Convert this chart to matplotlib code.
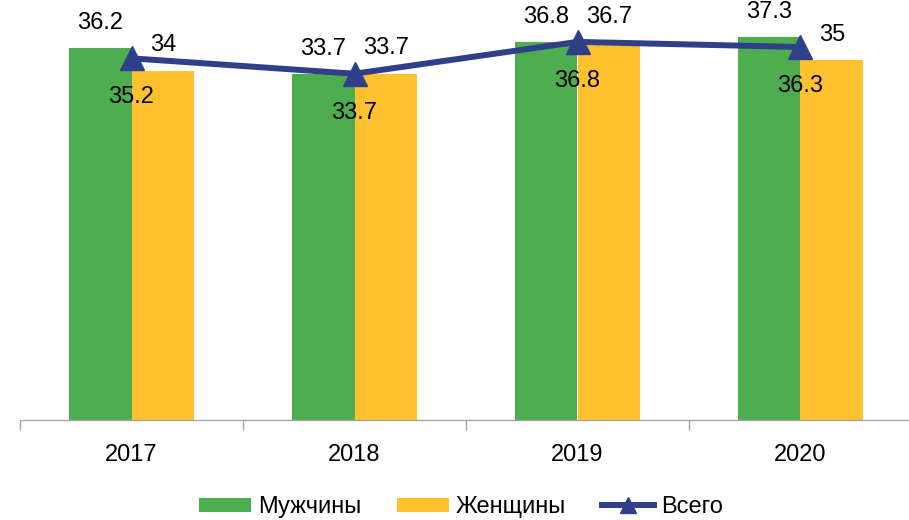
import matplotlib
matplotlib.use("Agg")
import matplotlib.pyplot as plt
import numpy as np

years = ["2017", "2018", "2019", "2020"]
men = [36.2, 33.7, 36.8, 37.3]
women = [34, 33.7, 36.7, 35]
total = [35.2, 33.7, 36.8, 36.3]

GREEN = "#4EAE4F"
YELLOW = "#FFC22E"
NAVY = "#2F3F8A"

plt.rcParams['font.family'] = ['Liberation Sans', 'DejaVu Sans']

fig = plt.figure(figsize=(9.09, 5.2), dpi=100)
ax = fig.add_axes([20/909, 100/520, 892/909, 411/520])

x = np.arange(len(years))
bw = 0.2825
b1 = ax.bar(x - bw, men, width=bw, align='edge', color=GREEN, label='Мужчины', zorder=2)
b2 = ax.bar(x, women, width=bw, align='edge', color=YELLOW, label='Женщины', zorder=2)
l1, = ax.plot(x, total, color=NAVY, lw=4.3, marker='^', ms=17, label='Всего', zorder=3)

fs = 17
for i in range(len(years)):
    ax.annotate(f"{men[i]:g}", (x[i] - bw/2, men[i]), xytext=(0, 18), textcoords='offset points',
                ha='center', va='center', fontsize=fs)
    ax.annotate(f"{women[i]:g}", (x[i] + bw/2, women[i]), xytext=(0, 18.5), textcoords='offset points',
                ha='center', va='center', fontsize=fs)
    ax.annotate(f"{total[i]:g}", (x[i], total[i]), xytext=(0, -28), textcoords='offset points',
                ha='center', va='center', fontsize=fs)

ax.set_xlim(-0.5, len(years) - 0.5)
ax.set_ylim(0, 40)
for s in ['left', 'right', 'top']:
    ax.spines[s].set_visible(False)
ax.spines['bottom'].set_color('#A6A6A6')
ax.spines['bottom'].set_linewidth(1)
ax.set_yticks([])
ax.set_xticks(x)
ax.set_xticklabels(years, fontsize=fs)
ax.tick_params(axis='x', which='major', length=0, pad=17)
ax.set_xticks(np.arange(-0.5, len(years) + 0.5, 1), minor=True)
ax.tick_params(axis='x', which='minor', length=7, color='#A6A6A6', width=1)

fig.legend([b1, b2, l1], ['Мужчины', 'Женщины', 'Всего'],
           loc='center', bbox_to_anchor=(461/909, 1 - 507/520), ncol=3, frameon=False,
           fontsize=fs, handlelength=2.2, handleheight=0.55, handletextpad=0.3,
           columnspacing=1.5, markerscale=0.65)

fig.savefig("out.png", dpi=100)
